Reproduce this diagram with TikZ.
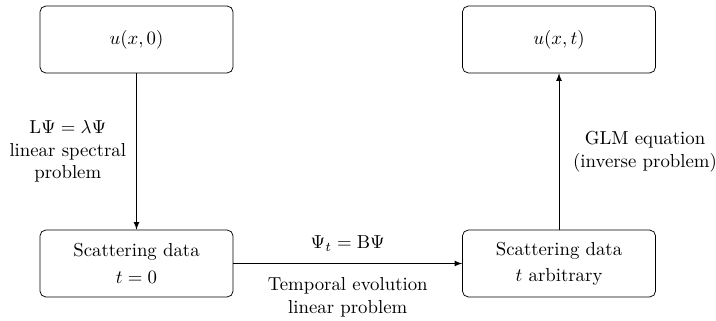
\documentclass[tikz,border=0pt]{standalone}
\usepackage{amsmath}
\usepackage{tikz}
\usetikzlibrary{arrows}

\begin{document}
\begin{tikzpicture}[x=0.0187cm,y=-0.0187cm,>=latex,
        box/.style={draw,rounded corners=3pt,minimum width=3.61cm,minimum height=1.25cm,align=center}]
        \useasboundingbox (0,0) rectangle (716,320);

        \node[box] (u0) at (136.5,39.5) {$u(x,0)$};
        \node[box] (ut) at (559,39.5) {$u(x,t)$};
        \node[box] (s0) at (136.5,263.5) {Scattering data\\[2pt] $t=0$};
        \node[box] (st) at (559,263.5) {Scattering data\\[2pt] $t$ arbitrary};

        \draw[->] (u0) -- node[left,align=center,xshift=-2pt] {$\mathrm{L}\Psi=\lambda\Psi$\\ linear spectral\\ problem} (s0);
        \draw[->] (s0) -- node[above,yshift=3pt] {$\Psi_t=\mathrm{B}\Psi$}
            node[below,align=center,yshift=-4pt] {Temporal evolution\\ linear problem} (st);
        \draw[->] (st) -- node[right,align=center,xshift=4pt] {GLM equation\\ (inverse problem)} (ut);
    \end{tikzpicture}
\end{document}
